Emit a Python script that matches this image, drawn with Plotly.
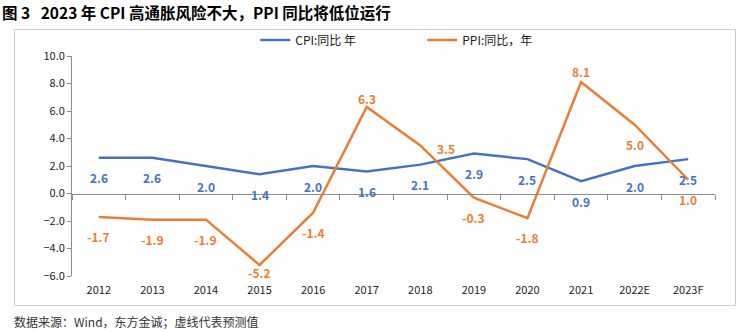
import plotly.graph_objects as go

years = ["2012", "2013", "2014", "2015", "2016", "2017", "2018", "2019", "2020", "2021", "2022E", "2023F"]
cpi = [2.6, 2.6, 2.0, 1.4, 2.0, 1.6, 2.1, 2.9, 2.5, 0.9, 2.0, 2.5]
ppi = [-1.7, -1.9, -1.9, -5.2, -1.4, 6.3, 3.5, -0.3, -1.8, 8.1, 5.0, 1.0]

# label offsets (pixels): style only
cpi_shift = [(0, -20)] * 12
ppi_shift = [(0, -20), (0, -20), (0, -20), (0, -7), (0, -20), (0, 8),
             (26, -3), (0, -20), (0, -19), (0, 11), (0, -20), (0, -20)]

BLUE = "#4472C4"
ORANGE = "#ED7D31"
FONT = "Noto Sans CJK SC"
YMIN, YMAX = -6, 10
PW, PH = 643, 220  # plot area size in px (inside margins)
FRAME = "#cccccc"

fig = go.Figure()
fig.add_trace(go.Scatter(x=years, y=cpi, mode="lines", name="CPI:同比 年",
                         line=dict(color=BLUE, width=2.5)))
fig.add_trace(go.Scatter(x=years, y=ppi, mode="lines", name="PPI:同比，年",
                         line=dict(color=ORANGE, width=2.5)))

annotations = []
for vals, shifts, col in ((cpi, cpi_shift, BLUE), (ppi, ppi_shift, ORANGE)):
    for i, (v, (dx, dy)) in enumerate(zip(vals, shifts)):
        annotations.append(dict(x=i, y=v, xref="x", yref="y", text=f"<b>{v:.1f}</b>",
                                showarrow=False, xshift=dx, yshift=dy,
                                xanchor="center", yanchor="middle",
                                font=dict(family=FONT, size=12, color=col)))

annotations.append(dict(xref="paper", yref="paper", x=-72 / PW, y=1 + 44 / PH,
                        xanchor="left", yanchor="middle", showarrow=False,
                        text="<b>图 3&nbsp;&nbsp;&nbsp;2023 年 CPI 高通胀风险不大，PPI 同比将低位运行</b>",
                        font=dict(family=FONT, size=15.5, color="#000000")))
annotations.append(dict(xref="paper", yref="paper", x=-60 / PW, y=-45 / PH,
                        xanchor="left", yanchor="middle", showarrow=False,
                        text="数据来源：Wind，东方金诚；虚线代表预测值",
                        font=dict(family=FONT, size=12, color="#333333")))

shapes = [dict(type="rect", xref="paper", yref="paper",
               x0=-57.5 / PW, x1=1 + 20.5 / PW, y0=-29.5 / PH, y1=1 + 26.5 / PH,
               line=dict(color=FRAME, width=1), fillcolor="rgba(0,0,0,0)",
               layer="above")]

fig.update_layout(
    width=743, height=332,
    margin=dict(l=72, r=28, t=56, b=56),
    paper_bgcolor="white", plot_bgcolor="white",
    font=dict(family=FONT, size=11, color="#222222"),
    showlegend=True,
    legend=dict(orientation="h", x=0.285, xanchor="left", y=1 + 16 / PH, yanchor="middle",
                font=dict(family=FONT, size=12, color="#222222"),
                entrywidth=122, entrywidthmode="pixels",
                bgcolor="rgba(0,0,0,0)"),
    xaxis=dict(type="category", range=[-0.5, len(years) - 0.5],
               anchor="free", position=(0 - YMIN) / (YMAX - YMIN),
               showline=True, linecolor="#8c8c8c", linewidth=1, ticks="outside",
               tickson="boundaries", ticklen=5, tickcolor="#8c8c8c",
               ticklabelstandoff=86, showgrid=False, zeroline=False, automargin=False,
               tickfont=dict(family=FONT, size=11, color="#222222")),
    yaxis=dict(range=[YMIN, YMAX], dtick=2, tickformat=".1f", showgrid=False,
               zeroline=False, showline=True, linecolor="#8c8c8c", linewidth=1,
               ticks="outside", ticklen=4, tickcolor="#8c8c8c", automargin=False,
               tickfont=dict(family=FONT, size=11, color="#222222")),
    annotations=annotations,
    shapes=shapes,
)

fig.write_html("out.html")
